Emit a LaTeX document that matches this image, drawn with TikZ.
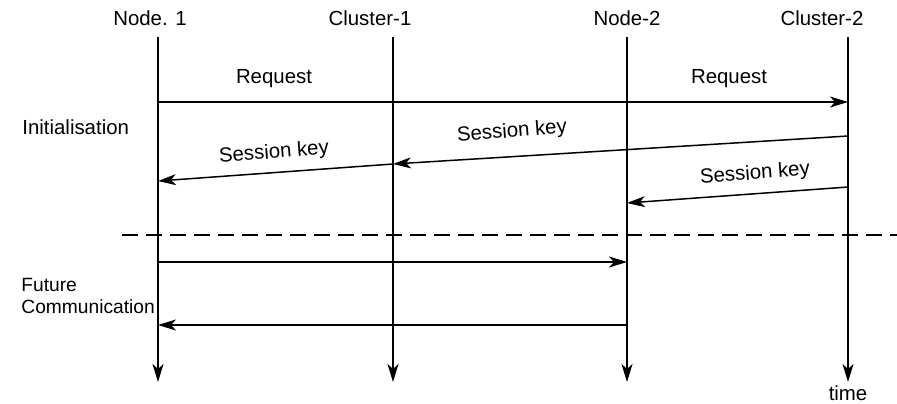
\documentclass[tikz,border=0pt]{standalone}
\usepackage{fontspec}
\setmainfont{Liberation Sans}
\usetikzlibrary{arrows.meta}
\begin{document}
\begin{tikzpicture}[x=0.5pt,y=-0.5pt,
  every node/.style={font=\fontsize{10.2}{12.2}\selectfont, inner sep=0pt},
  lifeline/.style={line width=0.75pt, -{Stealth[length=9pt,width=5.5pt,inset=2.5pt]}},
  msg/.style={line width=0.75pt, -{Stealth[length=9pt,width=5.5pt,inset=2.5pt]}},
  sep/.style={line width=0.75pt, dash pattern=on 8pt off 4pt}]
\useasboundingbox (0,0) rectangle (897,403);

% participant headings
\node (hn1) at (150,18) {Node. 1};
\node (hc1) at (370,18) {Cluster-1};
\node (hn2) at (627,18) {Node-2};
\node (hc2) at (822,18) {Cluster-2};

% lifelines
\coordinate (n1t) at (158,37);  \coordinate (n1b) at (158,382);
\coordinate (c1t) at (393,37);  \coordinate (c1b) at (393,382);
\coordinate (n2t) at (627,37);  \coordinate (n2b) at (627,382);
\coordinate (c2t) at (848,37);  \coordinate (c2b) at (848,382);
\foreach \p in {n1,c1,n2,c2} \draw[lifeline] (\p t) -- (\p b);
\node (time) at (848,393) {time};

% phase labels
\node[anchor=west] (init) at (22,127) {Initialisation};
\node[anchor=west, align=left, font=\fontsize{9.6}{11.3}\selectfont] (fut) at (21,296) {Future\\Communication};

% initialisation messages
\coordinate (rq1) at (158,102);
\coordinate (rq2) at (848,102);
\draw[msg] (rq1) -- (rq2);
\node (lr1) at (274,79) {Request};
\node (lr2) at (729,79) {Request};

\coordinate (sk1a) at (848,136);
\coordinate (sk1b) at (393,164);
\coordinate (sk1c) at (158,181);
\draw[msg] (sk1a) -- (sk1b);
\draw[msg] (sk1b) -- (sk1c);
\node[rotate=4.5] (ls1) at (274,153) {Session key};
\node[rotate=4.5] (ls2) at (512,132) {Session key};

\coordinate (sk2a) at (848,187);
\coordinate (sk2b) at (627,203);
\draw[msg] (sk2a) -- (sk2b);
\node[rotate=4.5] (ls3) at (755,174) {Session key};

% phase separator
\coordinate (d1) at (122,235);
\coordinate (d2) at (897,235);
\draw[sep] (d1) -- (d2);

% future communication
\coordinate (f1a) at (158,262);
\coordinate (f1b) at (627,262);
\draw[msg] (f1a) -- (f1b);
\coordinate (f2a) at (627,325);
\coordinate (f2b) at (158,325);
\draw[msg] (f2a) -- (f2b);
\end{tikzpicture}
\end{document}
